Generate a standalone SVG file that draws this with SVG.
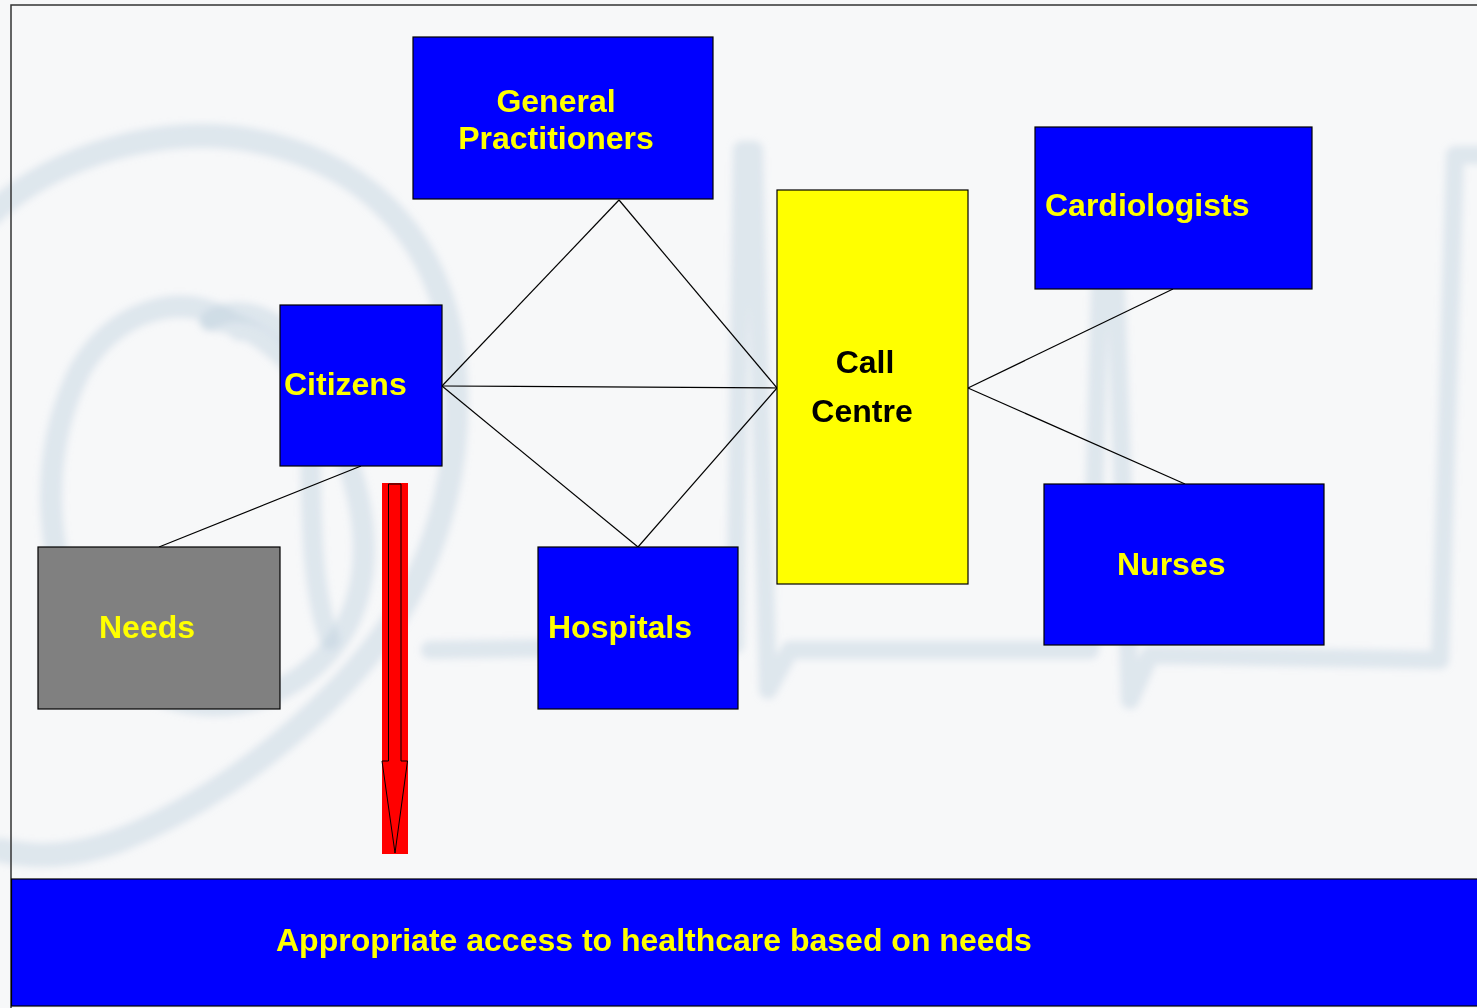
<svg xmlns="http://www.w3.org/2000/svg" width="1477" height="1008" viewBox="0 0 1477 1008">
  <style>
    .box { stroke: #000; stroke-width: 1.2; }
    .blue { fill: #0000ff; }
    .lbl { font-family: "Liberation Sans", Arial, sans-serif; font-weight: bold; font-size: 32px; fill: #ffff00; }
    .dark { fill: #000; }
    .wm { fill: none; stroke: #b9cedd; stroke-linecap: round; stroke-linejoin: round; opacity: 0.4; }
    .link { stroke: #000; stroke-width: 1.2; fill: none; }
  </style>
  <defs>
    <filter id="soft" x="-10%" y="-10%" width="120%" height="120%">
      <feGaussianBlur stdDeviation="3.5"/>
    </filter>
  </defs>

  <!-- page background -->
  <rect x="0" y="0" width="1477" height="1008" fill="#f7f8f9"/>

  <!-- faint logo watermark: "@" ring and ECG trace -->
  <g id="watermark" filter="url(#soft)">
    <path class="wm" stroke-width="24" d="M -10,215 C 60,150 170,125 250,140 C 360,160 430,230 450,330 C 470,450 440,560 380,640 C 320,720 220,800 120,840 C 80,855 40,860 0,850"/>
    <path class="wm" stroke-width="22" d="M 240,330 C 200,290 120,300 80,370 C 40,450 40,560 90,640 C 150,720 260,730 330,650 C 380,590 370,500 330,420 C 300,360 250,320 210,320"/>
    <path class="wm" stroke-width="20" d="M 210,320 C 240,300 290,320 300,360 C 320,440 300,560 330,640"/>
    <path class="wm" stroke-width="18" d="M 430,650 L 735,645 L 742,150 L 754,150 L 768,690 L 790,650 L 1090,650 L 1100,290 L 1116,290 L 1130,700 L 1150,655 L 1440,660 L 1455,155 L 1485,155"/>
  </g>

  <!-- slide frame -->
  <path d="M 11,1008 L 11,5 L 1477,5" fill="none" stroke="#333" stroke-width="1.5"/>

  <!-- connectors -->
  <g id="connectors">
    <line class="link" x1="442" y1="386" x2="619" y2="200"/>
    <line class="link" x1="442" y1="386" x2="777" y2="388"/>
    <line class="link" x1="442" y1="386" x2="638" y2="547"/>
    <line class="link" x1="619" y1="200" x2="777" y2="388"/>
    <line class="link" x1="638" y1="547" x2="777" y2="388"/>
    <line class="link" x1="968" y1="388" x2="1173" y2="289"/>
    <line class="link" x1="968" y1="388" x2="1185" y2="484"/>
    <line class="link" x1="361" y1="466" x2="159" y2="547"/>
  </g>

  <g id="gp">
    <rect class="box blue" x="413" y="37" width="300" height="162"/>
    <text class="lbl" x="556" y="112" text-anchor="middle">General</text>
    <text class="lbl" x="556" y="149" text-anchor="middle">Practitioners</text>
  </g>

  <g id="citizens">
    <rect class="box blue" x="280" y="305" width="162" height="161"/>
    <text class="lbl" x="284" y="395">Citizens</text>
  </g>

  <g id="needs">
    <rect class="box" fill="#808080" x="38" y="547" width="242" height="162"/>
    <text class="lbl" x="99" y="638">Needs</text>
  </g>

  <g id="hospitals">
    <rect class="box blue" x="538" y="547" width="200" height="162"/>
    <text class="lbl" x="548" y="638">Hospitals</text>
  </g>

  <g id="call-centre">
    <rect class="box" fill="#ffff00" x="777" y="190" width="191" height="394"/>
    <text class="lbl dark" x="865" y="373" text-anchor="middle">Call</text>
    <text class="lbl dark" x="862" y="422" text-anchor="middle">Centre</text>
  </g>

  <g id="cardiologists">
    <rect class="box blue" x="1035" y="127" width="277" height="162"/>
    <text class="lbl" x="1045" y="216">Cardiologists</text>
  </g>

  <g id="nurses">
    <rect class="box blue" x="1044" y="484" width="280" height="161"/>
    <text class="lbl" x="1117" y="575">Nurses</text>
  </g>

  <!-- downward block arrow on red backing -->
  <g id="arrow">
    <rect x="382" y="483" width="26" height="371" fill="#ff0000"/>
    <polygon points="388.5,484 401,484 401,761 407.5,761 395,853 382,761 388.5,761" fill="#ff0000" stroke="#000" stroke-width="1"/>
  </g>

  <g id="banner">
    <rect class="box blue" x="11.5" y="879" width="1470" height="127"/>
    <text class="lbl" x="276" y="951">Appropriate access to healthcare based on needs</text>
  </g>
</svg>
